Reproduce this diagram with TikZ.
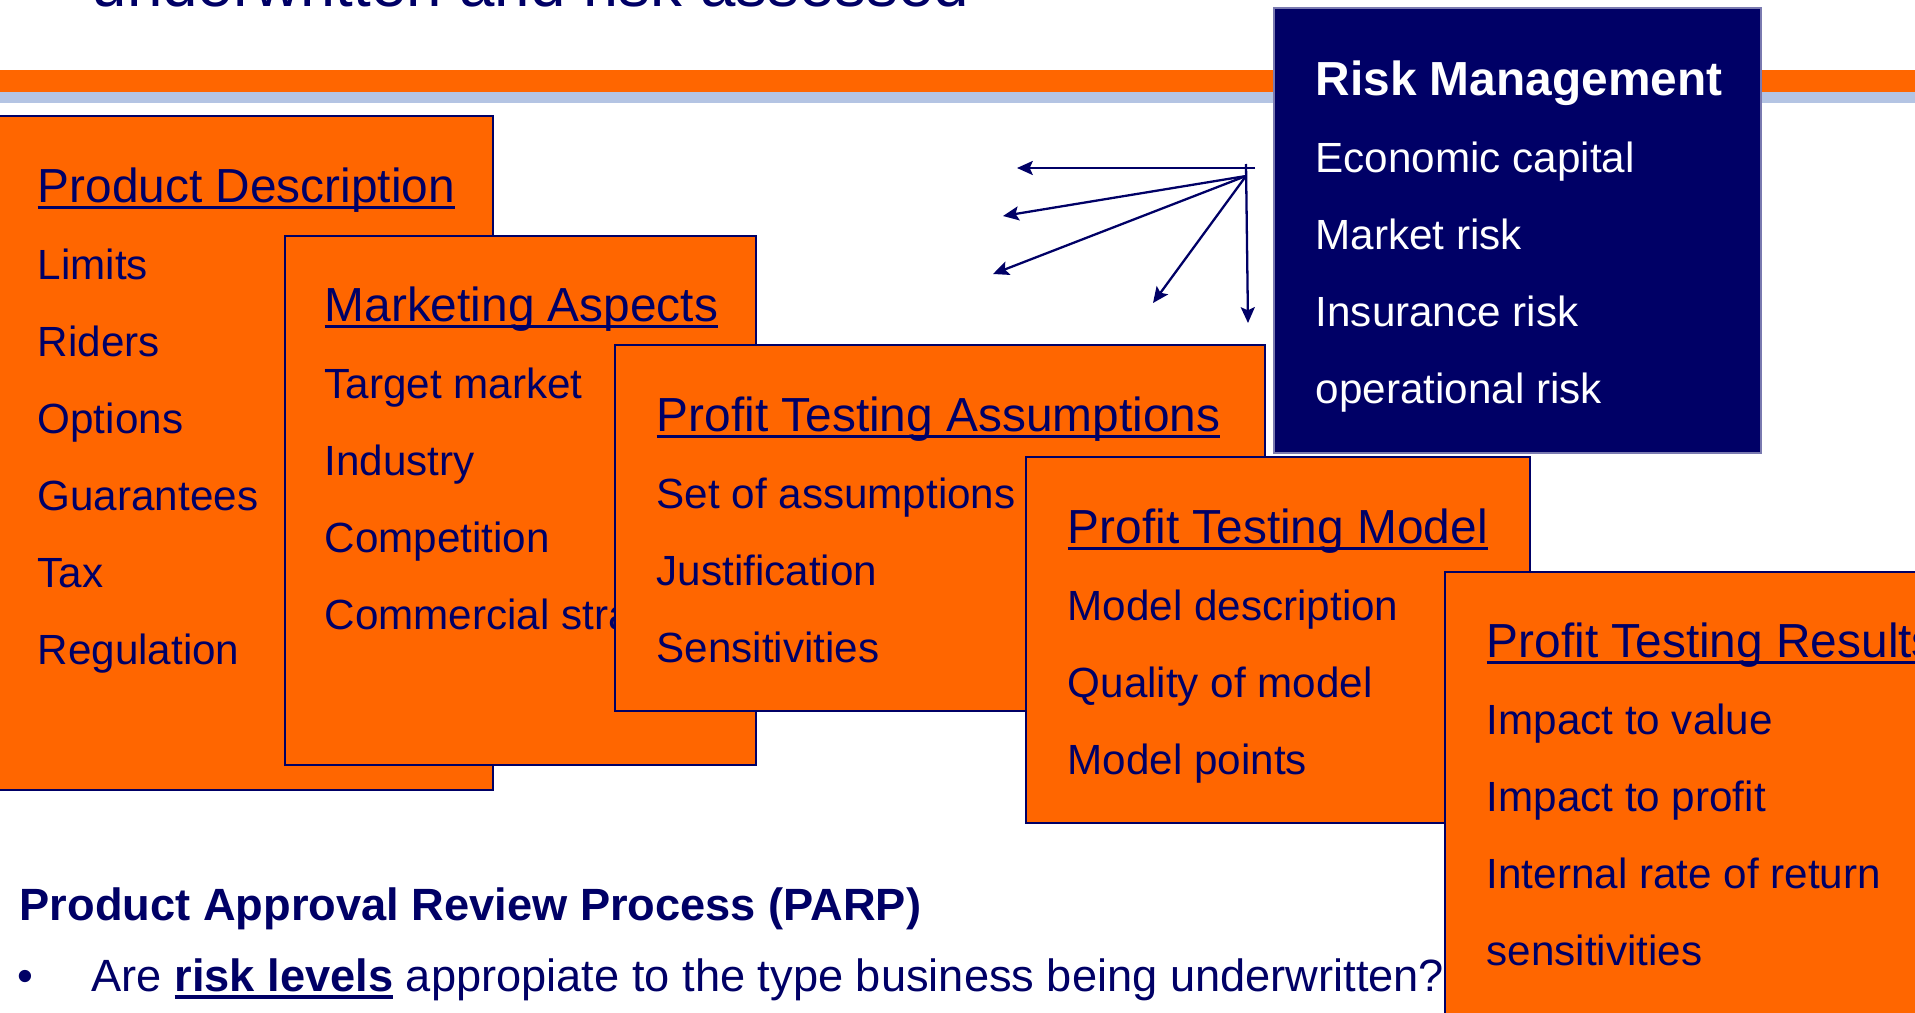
\documentclass[tikz,border=0pt]{standalone}
\usepackage{fontspec}
\setmainfont{Liberation Sans}
\usetikzlibrary{arrows.meta, fit}
\definecolor{navy}{HTML}{000066}
\definecolor{slideorange}{HTML}{FF6600}
\definecolor{bandblue}{HTML}{B4C4E3}
\definecolor{rmedge}{HTML}{7A7AB0}

% underlines drawn as rules, crossing the descenders
\newcommand{\headul}[1]{\setbox0\hbox{#1}\rlap{\rule[-1.85pt]{\wd0}{0.85pt}}\box0\relax}
\newcommand{\boldul}[1]{\setbox0\hbox{\bfseries #1}\rlap{\rule[-2.3pt]{\wd0}{1.1pt}}\box0\relax}

\begin{document}
\begin{tikzpicture}[
    x=0.01cm, y=-0.01cm,
    txt/.style={anchor=base west, inner sep=0pt, text=navy},
    card/.style={rectangle, draw=navy, line width=0.65pt, fill=slideorange,
                 inner sep=0pt},
    head/.style={txt, font=\fontsize{13.6}{16}\selectfont},
    item/.style={txt, font=\fontsize{12}{14}\selectfont},
    arrowline/.style={-{Stealth[length=4.5pt, width=4pt, inset=0.9pt]},
                      line width=0.65pt, navy},
  ]

  \clip (0,0) rectangle (1915,1012);

  % title line and band
  \node[txt, font=\fontsize{18.1}{20}\selectfont] (title) at (91,6)
    {underwritten and risk assessed};
  \fill[slideorange] (0,70) rectangle (1915,92);
  \fill[bandblue] (0,92) rectangle (1915,103);

  % =========================================================
  %  Product Description
  % =========================================================
  \begin{scope}[shift={(-3,116)}]
    \node[card, fit={(0,0) (496,674)}] (pd) {};
    \node[head] (pd-h) at (40,86) {\headul{Product Description}};
    \foreach \t [count=\k] in {Limits, Riders, Options, Guarantees, Tax, Regulation}
      \node[item] (pd-\k) at (40,86+77*\k) {\t};
  \end{scope}

  % =========================================================
  %  Marketing Aspects
  % =========================================================
  \begin{scope}[shift={(285,236)}]
    \node[card, fit={(0,0) (471,529)}] (ma) {};
    \node[head] (ma-h) at (39,85) {\headul{Marketing Aspects}};
    \foreach \t [count=\k] in {Target market, Industry, Competition,
                               Commercial strategy}
      \node[item] (ma-\k) at (39,85+77*\k) {\t};
  \end{scope}

  % =========================================================
  %  Profit Testing Assumptions
  % =========================================================
  \begin{scope}[shift={(615,345)}]
    \node[card, fit={(0,0) (650,366)}] (pta) {};
    \node[head] (pta-h) at (41,86) {\headul{Profit Testing Assumptions}};
    \foreach \t [count=\k] in {Set of assumptions, Justification, Sensitivities}
      \node[item] (pta-\k) at (41,86+77*\k) {\t};
  \end{scope}

  % =========================================================
  %  Risk Management (dark box)
  % =========================================================
  \begin{scope}[shift={(1274,8)}]
    \node[card, fill=navy, draw=rmedge, line width=0.4pt,
          fit={(0,0) (487,445)}] (rm) {};
    \node[head, text=white, font=\bfseries\fontsize{13.6}{16}\selectfont]
      (rm-h) at (41,87) {Risk Management};
    \foreach \t [count=\k] in {Economic capital, Market risk, Insurance risk,
                               operational risk}
      \node[item, text=white] (rm-\k) at (41,87+77*\k) {\t};
  \end{scope}

  % fan of arrows left of the dark box
  \coordinate (hub) at (1246,176);
  \coordinate (hubtop) at (1246,164);
  \coordinate (hright) at (1255,168);
  \coordinate (tipA) at (1017,168);
  \coordinate (tipB) at (1003,216);
  \coordinate (tipC) at (993,274);
  \coordinate (tipD) at (1153,303);
  \coordinate (tipE) at (1248,323);
  \draw[arrowline] (hright) -- (tipA);
  \foreach \tip in {tipB, tipC, tipD}
    \draw[arrowline] (hub) -- (\tip);
  \draw[arrowline] (hubtop) -- (tipE);

  % =========================================================
  %  Profit Testing Model
  % =========================================================
  \begin{scope}[shift={(1026,457)}]
    \node[card, fit={(0,0) (504,366)}] (ptm) {};
    \node[head] (ptm-h) at (41,86) {\headul{Profit Testing Model}};
    \foreach \t [count=\k] in {Model description, Quality of model, Model points}
      \node[item] (ptm-\k) at (41,86+77*\k) {\t};
  \end{scope}

  % PARP text at the bottom
  \node[txt, font=\bfseries\fontsize{12.86}{15}\selectfont] (parp) at (19,920)
    {Product Approval Review Process (PARP)};
  \node[txt, font=\fontsize{12.86}{15}\selectfont] (bullet) at (17,991) {•};
  \node[txt, font=\fontsize{12.86}{15}\selectfont] (question) at (91,991)
    {Are \boldul{risk levels} appropiate to the type business being underwritten?};

  % =========================================================
  %  Profit Testing Results
  % =========================================================
  \begin{scope}[shift={(1445,572)}]
    \node[card, fit={(0,0) (500,460)}] (ptr) {};
    \node[head] (ptr-h) at (41,85) {\headul{Profit Testing Results}};
    \foreach \t [count=\k] in {Impact to value, Impact to profit,
                               Internal rate of return, sensitivities}
      \node[item] (ptr-\k) at (41,85+77*\k) {\t};
  \end{scope}

\end{tikzpicture}
\end{document}
